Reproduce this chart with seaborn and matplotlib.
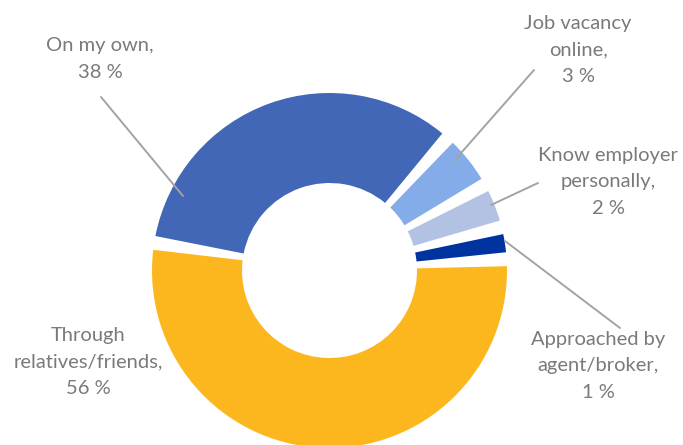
import matplotlib
matplotlib.use("Agg")
import matplotlib.pyplot as plt
import seaborn as sns

# data
categories = ["On my own", "Job vacancy online", "Know employer personally",
              "Approached by agent/broker", "Through relatives/friends"]
pct_labels = [38, 3, 2, 1, 56]
# share of the ring each slice takes in the picture (percent)
ring_share = [34.1, 5.4, 4.1, 2.9, 53.5]
colors = ["#4167B6", "#83ACE8", "#B3C2E3", "#0032A0", "#FDB71E"]

label_lines = ["On my own,", "Job vacancy\nonline,", "Know employer\npersonally,",
               "Approached by\nagent/broker,", "Through\nrelatives/friends,"]

# layout (pixel coords, origin bottom-left)
W, H = 683, 445
center = (329.5, 174.5)
radius = 177.5
ring_width = 90
gap_deg = 4.5
label_pos = [(100, 386), (578, 395), (608, 263), (598, 79), (88, 83)]
leader_from = [(101, 348), (534, 375), (538, 262), (620, 117), None]
leader_to = [(183, 249), (454, 284), (491, 240), (505, 204), None]

sns.set_theme(style="white")
plt.rcParams["font.family"] = ["Lato", "DejaVu Sans"]

fig = plt.figure(figsize=(W / 100, H / 100), dpi=100)
ax = fig.add_axes([0, 0, 1, 1])

wedges, _ = ax.pie(ring_share, colors=sns.color_palette(colors), center=center,
                   radius=radius, startangle=168.8 + gap_deg / 2, counterclock=False,
                   wedgeprops=dict(width=ring_width, linewidth=0), frame=True)
# Excel style gaps between slices
for w in wedges:
    w.set_theta1(w.theta1 + gap_deg / 2)
    w.set_theta2(w.theta2 - gap_deg / 2)

ax.set_xlim(0, W)
ax.set_ylim(0, H)
ax.set_aspect("equal")
ax.axis("off")

for i, name in enumerate(categories):
    txt = f"{label_lines[i]}\n{pct_labels[i]} %"
    ax.text(label_pos[i][0], label_pos[i][1], txt, ha="center", va="center",
            fontsize=14.5, color="#7A7A7A", linespacing=1.65)
    if leader_from[i] is not None:
        ax.annotate("", xy=leader_to[i], xytext=leader_from[i],
                    arrowprops=dict(arrowstyle="-", color="#A3A3A3", lw=1.4,
                                    shrinkA=0, shrinkB=0))

fig.savefig("out.png", dpi=100)
